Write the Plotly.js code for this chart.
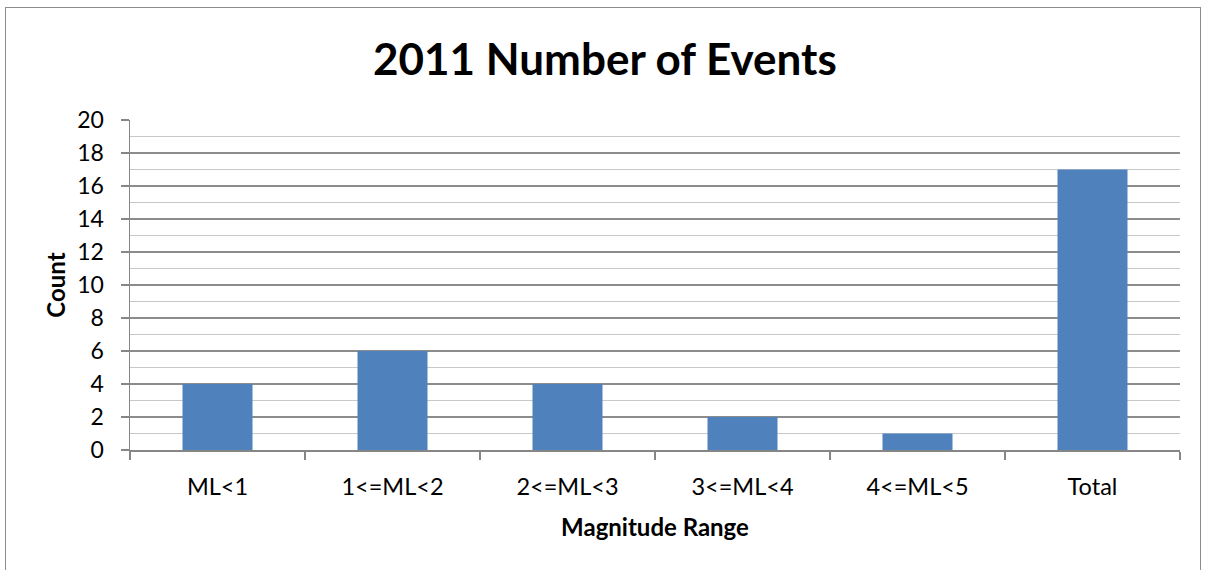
<!DOCTYPE html>
<html>
<head>
<meta charset="utf-8">
<script src="https://cdn.plot.ly/plotly-3.0.1.min.js"></script>
<style>
html,body{margin:0;padding:0;background:#fff;}
#wrap{position:relative;width:1205px;height:570px;overflow:hidden;}
#chart{position:absolute;left:0;top:0;width:1205px;height:570px;}
#frame{position:absolute;left:5px;top:7px;width:1194px;height:580px;border:1.5px solid #8c8c8c;pointer-events:none;}
</style>
</head>
<body>
<div id="wrap"><div id="chart"></div><div id="frame"></div></div>
<script>
const categories = ["ML<1", "1<=ML<2", "2<=ML<3", "3<=ML<4", "4<=ML<5", "Total"];
const counts = [4, 6, 4, 2, 1, 17];
const yTicks = [0, 2, 4, 6, 8, 10, 12, 14, 16, 18, 20];

const FONT = "Lato, 'Open Sans', sans-serif";
const trace = {
  type: "bar",
  x: categories,
  y: counts,
  marker: {color: "#4F81BD", line: {width: 0}},
  hoverinfo: "x+y"
};
const layout = {
  width: 1205, height: 570,
  paper_bgcolor: "#ffffff", plot_bgcolor: "#ffffff",
  margin: {l: 130, r: 25, t: 120, b: 120},
  showlegend: false,
  bargap: 0.6,
  title: {text: "<b>2011 Number of Events</b>", x: 0.502, xref: "container", xanchor: "center", y: 0.895, yref: "container", yanchor: "middle",
          font: {family: FONT, size: 44, color: "#000"}},
  xaxis: {
    type: "category",
    tickson: "boundaries",
    ticks: "outside", ticklen: 8, tickcolor: "#868686", tickwidth: 1.5,
    showline: true, linecolor: "#868686", linewidth: 1.5,
    showgrid: false,
    tickfont: {family: FONT, size: 23.5, color: "#000"},
    ticklabelstandoff: 15,
    title: {text: "<b>Magnitude Range</b>", font: {family: FONT, size: 24, color: "#000"}, standoff: 20}
  },
  yaxis: {
    range: [0, 20],
    tickvals: yTicks,
    ticks: "outside", ticklen: 8, tickcolor: "#868686", tickwidth: 1.5,
    showline: true, linecolor: "#868686", linewidth: 1.5,
    showgrid: true, gridcolor: "#8c8c8c", gridwidth: 1.5,
    zeroline: false,
    minor: {dtick: 1, showgrid: true, gridcolor: "#c8c8c8", gridwidth: 1.5, ticks: ""},
    tickfont: {family: FONT, size: 23, color: "#000"},
    ticklabelstandoff: 12,
    title: {text: "<b>Count</b>", font: {family: FONT, size: 24, color: "#000"}, standoff: 5}
  }
};
Plotly.newPlot("chart", [trace], layout, {displayModeBar: false, staticPlot: true});
</script>
</body>
</html>
